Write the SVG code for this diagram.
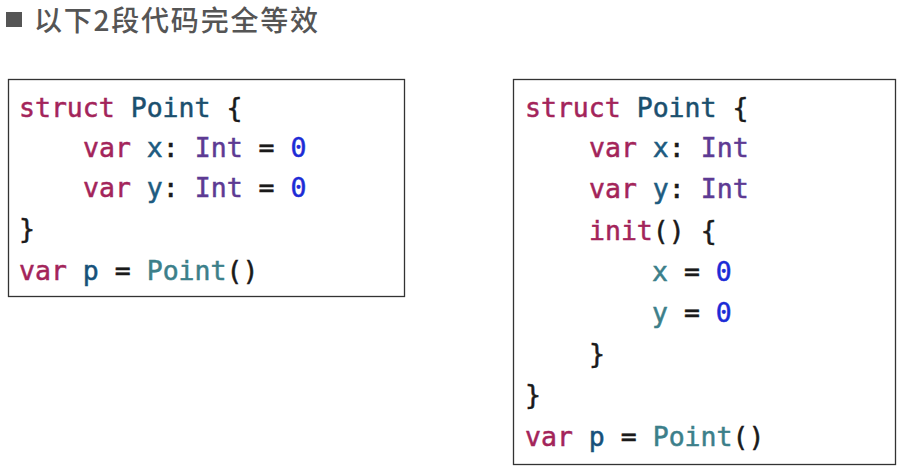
<svg xmlns="http://www.w3.org/2000/svg" width="902" height="474" viewBox="0 0 902 474">
<style>
.title{font-family:"Noto Sans CJK SC","Noto Sans",sans-serif;font-size:28px;font-weight:500;fill:#555555}
.code{font-family:"DejaVu Sans Mono","Liberation Mono",monospace;font-size:26.5px;fill:#1a1a1a;stroke:#1a1a1a;stroke-width:0.5}
.box{fill:#ffffff;stroke:#333333;stroke-width:1.3}
.kw{fill:#a3245a;stroke:#a3245a}
.tdecl{fill:#1b4f6e;stroke:#1b4f6e}
.prop{fill:#1d5b80;stroke:#1d5b80}
.typ{fill:#5d3a93;stroke:#5d3a93}
.num{fill:#1c2bd6;stroke:#1c2bd6}
.use{fill:#3c7f8a;stroke:#3c7f8a}
.pvar{fill:#17517a;stroke:#17517a}
</style>
<rect width="902" height="474" fill="#ffffff"/>
<g id="title">
<rect x="6" y="12" width="16" height="15" fill="#555555"/>
<text class="title" x="34" y="31" textLength="284" lengthAdjust="spacing">以下2段代码完全等效</text>
</g>
<g id="code-left">
<rect class="box" x="8.5" y="79.5" width="396" height="217"/>
<text class="code" x="19" y="117"><tspan class="kw">struct</tspan> <tspan class="tdecl">Point</tspan> {</text>
<text class="code" x="83" y="157"><tspan class="kw">var</tspan> <tspan class="prop">x</tspan>: <tspan class="typ">Int</tspan> = <tspan class="num">0</tspan></text>
<text class="code" x="83" y="197"><tspan class="kw">var</tspan> <tspan class="prop">y</tspan>: <tspan class="typ">Int</tspan> = <tspan class="num">0</tspan></text>
<text class="code" x="19" y="238">}</text>
<text class="code" x="19" y="280"><tspan class="kw">var</tspan> <tspan class="pvar">p</tspan> = <tspan class="use">Point</tspan>()</text>
</g>
<g id="code-right">
<rect class="box" x="513.5" y="79.5" width="382" height="385"/>
<text class="code" x="525" y="117"><tspan class="kw">struct</tspan> <tspan class="tdecl">Point</tspan> {</text>
<text class="code" x="589" y="157"><tspan class="kw">var</tspan> <tspan class="prop">x</tspan>: <tspan class="typ">Int</tspan></text>
<text class="code" x="589" y="198"><tspan class="kw">var</tspan> <tspan class="prop">y</tspan>: <tspan class="typ">Int</tspan></text>
<text class="code" x="589" y="240"><tspan class="kw">init</tspan>() {</text>
<text class="code" x="652" y="281"><tspan class="use">x</tspan> = <tspan class="num">0</tspan></text>
<text class="code" x="652" y="322"><tspan class="use">y</tspan> = <tspan class="num">0</tspan></text>
<text class="code" x="589" y="363">}</text>
<text class="code" x="525" y="404">}</text>
<text class="code" x="525" y="446"><tspan class="kw">var</tspan> <tspan class="pvar">p</tspan> = <tspan class="use">Point</tspan>()</text>
</g>
</svg>
